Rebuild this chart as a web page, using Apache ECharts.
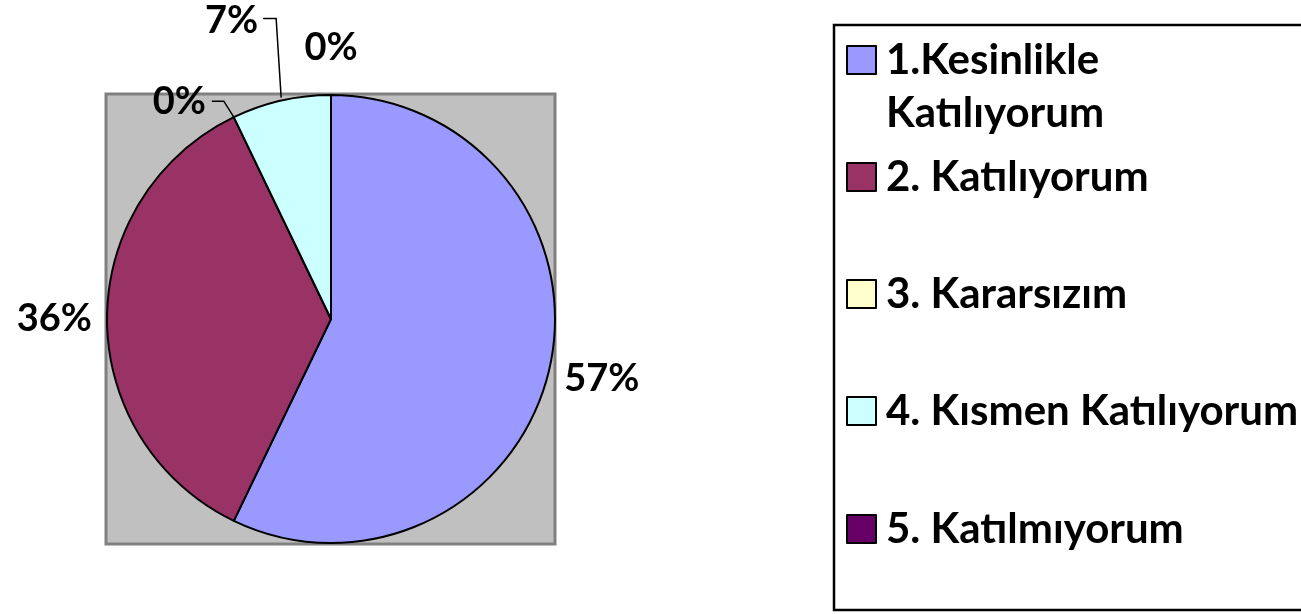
<!DOCTYPE html>
<html>
<head>
<meta charset="utf-8">
<script src="https://cdn.jsdelivr.net/npm/echarts@6/dist/echarts.min.js"></script>
<style>
  html, body { margin: 0; padding: 0; background: #fff; }
  #chartPie { width: 1301px; height: 614px; }
</style>
</head>
<body>
<div id="chartPie"></div>
<script>
// answer categories and counts (14 answers in total)
const categories = ['1.Kesinlikle Katılıyorum', '2. Katılıyorum', '3. Kararsızım', '4. Kısmen Katılıyorum', '5. Katılmıyorum'];
const counts = [8, 5, 0, 1, 0];
const colors = ['#9999FF', '#993366', '#FFFFCC', '#CCFFFF', '#660066'];

const CX = 331, CY = 319, R = 224;
const FONT = 'Lato';

let chartPie = echarts.init(document.getElementById('chartPie'));

// edge point of a slice at its middle angle
function sliceEdge(idx) {
  const total = counts.reduce((a, b) => a + b, 0);
  let before = 0;
  for (let i = 0; i < idx; i++) before += counts[i];
  const mid = (before + counts[idx] / 2) / total * Math.PI * 2 - Math.PI / 2;
  return [CX + R * Math.cos(mid), CY + R * Math.sin(mid)];
}

// legend: one component per entry so the spacing follows the original
const legendTops = [-19.5, 156, 273, 390, 508];
let legends = categories.map((name, i) => ({
  data: [name],
  orient: 'vertical',
  left: 846,
  top: legendTops[i],
  padding: 0,
  icon: 'rect',
  itemWidth: 29,
  itemHeight: 28,
  selectedMode: false,
  // first entry wraps onto two lines, the marker stays on the first one
  formatter: n => n === categories[0] ? '\n1.Kesinlikle\nKatılıyorum' : n,
  textStyle: {
    fontFamily: FONT,
    fontWeight: 'bold',
    fontSize: 42,
    lineHeight: i === 0 ? 53 : 42,
    color: '#000',
    padding: [0, 0, 0, 5]
  }
}));

let option = {
  animation: false,
  color: colors,
  legend: legends,
  graphic: [
    {
      type: 'rect',
      z: -10,
      shape: { x: 106, y: 94, width: 449, height: 450 },
      style: { fill: '#C0C0C0', stroke: '#808080', lineWidth: 3 }
    },
    {
      type: 'rect',
      z: -10,
      shape: { x: 834, y: 25, width: 500, height: 585 },
      style: { fill: 'none', stroke: '#000', lineWidth: 2.5 }
    }
  ],
  series: [
    {
      type: 'pie',
      center: [CX, CY],
      radius: R,
      startAngle: 90,
      clockwise: true,
      avoidLabelOverlap: false,
      itemStyle: { borderColor: '#000', borderWidth: 2 },
      label: {
        show: true,
        position: 'outside',
        formatter: p => Math.round(p.percent) + '%',
        fontFamily: FONT,
        fontWeight: 'bold',
        fontSize: 38,
        color: '#000'
      },
      labelLine: {
        show: true,
        length: 10,
        length2: 0,
        lineStyle: { color: '#000', width: 1.5 }
      },
      labelLayout: function (params) {
        const i = params.dataIndex;
        const e = sliceEdge(i);
        if (i === 0) {
          return { dy: 8, labelLinePoints: [e, e, e] };
        }
        if (i === 1) {
          return { labelLinePoints: [e, e, e] };
        }
        if (i === 2) {
          return {
            x: e[0] - 28, y: e[1] - 15, align: 'right', verticalAlign: 'middle',
            labelLinePoints: [e, [e[0] - 10, e[1] - 16], [e[0] - 22, e[1] - 16]]
          };
        }
        if (i === 3) {
          return {
            x: e[0] - 23, y: e[1] - 80, align: 'right', verticalAlign: 'middle',
            labelLinePoints: [[e[0], e[1] - 3], [e[0] - 5, e[1] - 82], [e[0] - 18, e[1] - 82]]
          };
        }
        return {
          x: e[0], y: e[1] - 47, align: 'center', verticalAlign: 'middle',
          labelLinePoints: [e, e, e]
        };
      },
      data: categories.map((name, i) => ({ name: name, value: counts[i] }))
    }
  ]
};

chartPie.setOption(option);
</script>
</body>
</html>
